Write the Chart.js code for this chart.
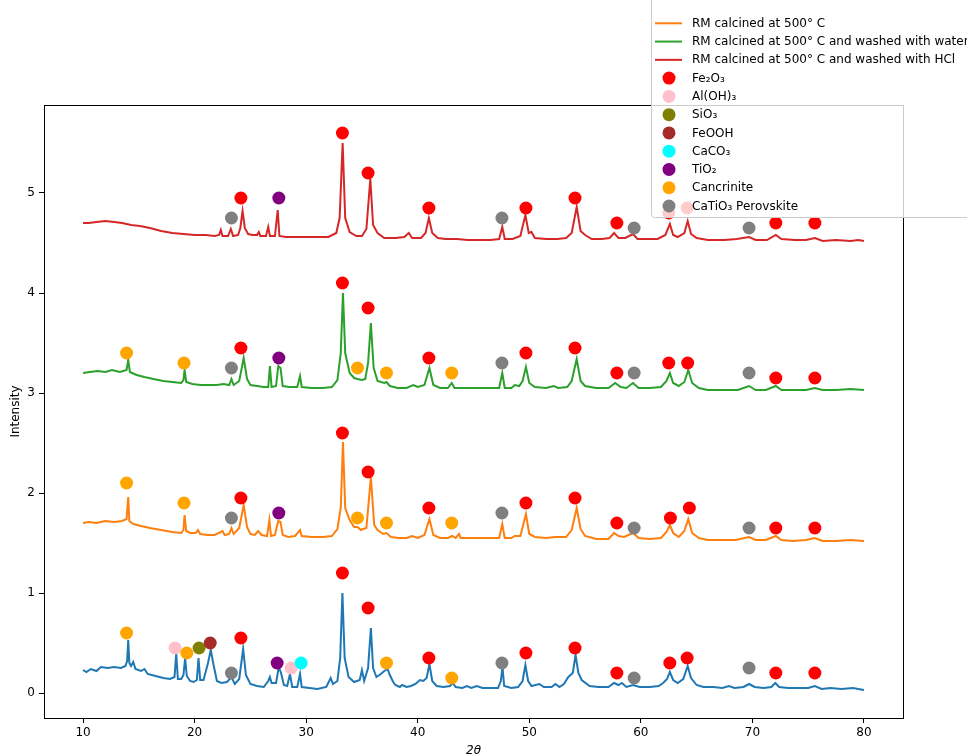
<!DOCTYPE html>
<html>
<head>
<meta charset="utf-8">
<script src="https://cdn.jsdelivr.net/npm/chart.js@4/dist/chart.umd.min.js"></script>
<style>
  body { margin: 0; background: #fff; }
  canvas { display: block; }
</style>
</head>
<body>
<canvas id="chart" width="967" height="754"></canvas>
<script>
// axis ticks
let xTicks = [10, 20, 30, 40, 50, 60, 70, 80];
let yTicks = [0, 1, 2, 3, 4, 5];

// XRD patterns, [2theta, intensity] (offset as plotted)
let rmRaw = [
  [10.0,0.23],[10.3,0.21],[10.7,0.24],[11.2,0.22],[11.6,0.26],[12.2,0.25],[12.8,0.26],[13.4,0.25],[13.8,0.27],
  [13.95,0.32],[14.05,0.53],[14.15,0.30],[14.3,0.27],[14.5,0.31],[14.7,0.24],[15.2,0.22],[15.5,0.24],[15.8,0.19],
  [16.5,0.17],[17.2,0.15],[17.8,0.14],[18.2,0.16],[18.35,0.40],[18.5,0.14],[18.8,0.14],[19.0,0.18],[19.15,0.35],
  [19.3,0.17],[19.6,0.12],[19.9,0.11],[20.2,0.13],[20.35,0.35],[20.5,0.13],[20.8,0.13],[21.2,0.30],[21.45,0.43],
  [21.7,0.28],[22.0,0.12],[22.4,0.10],[22.9,0.11],[23.3,0.16],[23.6,0.09],[24.0,0.14],[24.35,0.44],[24.6,0.18],
  [25.0,0.09],[25.6,0.07],[26.2,0.06],[26.6,0.12],[26.75,0.16],[26.9,0.10],[27.3,0.10],[27.55,0.26],[27.75,0.20],
  [28.0,0.08],[28.3,0.07],[28.55,0.19],[28.75,0.06],[29.2,0.06],[29.45,0.19],[29.6,0.06],[30.3,0.05],[31.0,0.04],
  [31.8,0.06],[32.2,0.15],[32.4,0.09],[32.8,0.12],[33.05,0.35],[33.25,1.00],[33.45,0.35],[33.8,0.16],[34.3,0.11],
  [34.8,0.13],[35.0,0.23],[35.2,0.12],[35.55,0.25],[35.8,0.65],[36.0,0.25],[36.3,0.16],[36.7,0.19],[37.0,0.22],
  [37.3,0.24],[37.5,0.18],[37.8,0.11],[38.0,0.08],[38.4,0.06],[38.6,0.08],[39.0,0.06],[39.4,0.07],[39.8,0.09],
  [40.2,0.13],[40.5,0.12],[40.8,0.15],[41.05,0.29],[41.3,0.12],[41.7,0.07],[42.3,0.06],[42.9,0.07],[43.15,0.10],
  [43.4,0.06],[44.0,0.05],[44.4,0.07],[44.8,0.05],[45.3,0.07],[45.8,0.05],[46.5,0.05],[47.2,0.05],[47.45,0.12],
  [47.6,0.26],[47.75,0.07],[48.4,0.05],[49.0,0.06],[49.4,0.12],[49.65,0.28],[49.9,0.12],[50.2,0.07],[50.9,0.09],
  [51.3,0.06],[52.0,0.06],[52.35,0.09],[52.7,0.06],[53.1,0.09],[53.5,0.16],[53.9,0.20],[54.15,0.38],[54.4,0.20],
  [54.7,0.13],[55.4,0.07],[56.2,0.06],[57.1,0.06],[57.6,0.10],[58.0,0.08],[58.3,0.10],[58.7,0.06],[59.3,0.08],
  [59.9,0.06],[60.8,0.06],[61.6,0.07],[62.0,0.10],[62.35,0.14],[62.6,0.21],[62.9,0.13],[63.3,0.10],[63.8,0.14],
  [64.2,0.27],[64.5,0.15],[65.0,0.08],[65.6,0.06],[66.5,0.06],[67.3,0.05],[67.9,0.07],[68.4,0.05],[69.2,0.06],
  [69.7,0.09],[70.2,0.06],[71.0,0.05],[71.7,0.06],[72.05,0.10],[72.4,0.06],[73.2,0.05],[74.2,0.05],[75.0,0.05],
  [75.6,0.07],[76.2,0.04],[77.0,0.05],[78.0,0.04],[79.0,0.05],[80.0,0.03]
];

let rmCalcined = [
  [10.0,1.70],[10.5,1.71],[11.2,1.70],[12.0,1.72],[12.8,1.71],[13.5,1.72],[13.9,1.74],[14.05,1.96],[14.15,1.72],
  [14.5,1.69],[15.2,1.67],[16.0,1.65],[17.0,1.63],[18.0,1.61],[18.8,1.60],[19.0,1.63],[19.1,1.78],[19.25,1.62],
  [19.6,1.60],[20.1,1.60],[20.3,1.63],[20.5,1.59],[21.2,1.58],[21.8,1.58],[22.5,1.62],[22.7,1.58],[23.1,1.59],
  [23.3,1.65],[23.5,1.59],[24.0,1.65],[24.4,1.88],[24.7,1.66],[25.0,1.59],[25.4,1.58],[25.7,1.62],[26.0,1.58],
  [26.5,1.57],[26.7,1.73],[26.85,1.57],[27.2,1.58],[27.5,1.72],[27.7,1.71],[27.9,1.58],[28.4,1.56],[29.0,1.57],
  [29.45,1.63],[29.6,1.57],[30.5,1.56],[31.5,1.56],[32.3,1.57],[32.8,1.64],[33.1,1.85],[33.3,2.51],[33.5,1.85],
  [33.9,1.73],[34.3,1.66],[34.6,1.66],[34.9,1.63],[35.1,1.64],[35.4,1.65],[35.8,2.16],[36.1,1.68],[36.4,1.63],
  [36.9,1.59],[37.2,1.60],[37.6,1.56],[38.3,1.55],[39.0,1.55],[39.5,1.57],[40.0,1.55],[40.6,1.58],[41.05,1.74],
  [41.4,1.58],[42.0,1.55],[42.7,1.55],[43.1,1.57],[43.4,1.55],[43.7,1.59],[43.85,1.55],[44.8,1.55],[46.0,1.55],
  [47.3,1.55],[47.58,1.69],[47.8,1.55],[48.4,1.55],[48.7,1.57],[49.2,1.57],[49.7,1.79],[50.0,1.59],[50.5,1.56],
  [51.5,1.55],[52.3,1.56],[53.3,1.56],[53.8,1.63],[54.25,1.85],[54.6,1.64],[55.0,1.57],[56.0,1.54],[57.1,1.54],
  [57.6,1.60],[58.0,1.57],[58.5,1.56],[59.3,1.60],[59.8,1.55],[60.8,1.54],[61.8,1.55],[62.3,1.61],[62.6,1.68],
  [62.9,1.60],[63.4,1.56],[63.9,1.62],[64.25,1.74],[64.6,1.60],[65.2,1.55],[66.0,1.53],[67.5,1.53],[68.5,1.53],
  [69.7,1.56],[70.3,1.53],[71.2,1.53],[72.1,1.57],[72.6,1.53],[73.6,1.52],[74.8,1.53],[75.6,1.55],[76.3,1.52],
  [77.5,1.52],[78.8,1.53],[80.0,1.52]
];

let rmWater = [
  [10.0,3.20],[10.6,3.21],[11.3,3.22],[12.0,3.21],[12.6,3.23],[13.3,3.21],[13.9,3.23],[14.05,3.33],[14.2,3.21],
  [14.8,3.18],[15.5,3.16],[16.3,3.14],[17.2,3.12],[18.0,3.11],[18.8,3.10],[19.0,3.13],[19.1,3.23],[19.25,3.11],
  [19.8,3.09],[20.5,3.08],[21.2,3.08],[22.0,3.08],[22.6,3.09],[23.1,3.08],[23.3,3.14],[23.5,3.08],[24.0,3.12],
  [24.4,3.35],[24.7,3.14],[25.0,3.08],[25.6,3.07],[26.2,3.06],[26.6,3.06],[26.75,3.27],[26.9,3.06],[27.3,3.07],
  [27.5,3.27],[27.7,3.25],[27.9,3.07],[28.5,3.06],[29.2,3.06],[29.45,3.17],[29.6,3.06],[30.5,3.05],[31.5,3.05],
  [32.3,3.06],[32.8,3.13],[33.1,3.40],[33.3,4.00],[33.5,3.40],[33.9,3.20],[34.3,3.15],[34.6,3.14],[35.0,3.13],
  [35.3,3.14],[35.55,3.30],[35.8,3.70],[36.05,3.25],[36.4,3.12],[37.0,3.10],[37.2,3.11],[37.5,3.07],[38.2,3.05],
  [39.0,3.05],[39.6,3.08],[40.0,3.06],[40.6,3.08],[41.05,3.25],[41.4,3.08],[42.0,3.05],[42.7,3.05],[43.05,3.10],
  [43.3,3.05],[44.5,3.05],[46.0,3.05],[47.3,3.05],[47.58,3.20],[47.8,3.05],[48.4,3.05],[48.7,3.08],[49.1,3.07],
  [49.4,3.12],[49.7,3.26],[50.0,3.10],[50.5,3.06],[51.5,3.05],[52.2,3.07],[52.6,3.05],[53.4,3.06],[53.8,3.12],
  [54.25,3.34],[54.6,3.12],[55.0,3.07],[56.0,3.05],[57.1,3.05],[57.7,3.10],[58.2,3.06],[58.7,3.05],[59.3,3.10],
  [59.8,3.05],[60.8,3.05],[61.8,3.06],[62.3,3.12],[62.6,3.20],[62.9,3.10],[63.4,3.07],[63.9,3.11],[64.25,3.23],
  [64.6,3.10],[65.2,3.05],[66.0,3.03],[67.5,3.03],[68.7,3.03],[69.7,3.07],[70.3,3.03],[71.2,3.03],[72.1,3.07],
  [72.6,3.03],[73.8,3.03],[74.8,3.03],[75.6,3.05],[76.3,3.03],[77.5,3.03],[78.8,3.04],[80.0,3.03]
];

let rmHCl = [
  [10.0,4.70],[10.5,4.70],[11.2,4.71],[12.0,4.72],[12.8,4.71],[13.5,4.70],[14.3,4.68],[15.1,4.67],[16.0,4.65],
  [17.0,4.62],[18.0,4.60],[19.0,4.59],[20.0,4.58],[21.0,4.58],[21.8,4.57],[22.2,4.58],[22.35,4.63],[22.5,4.57],
  [23.0,4.57],[23.25,4.64],[23.45,4.57],[23.9,4.58],[24.1,4.65],[24.3,4.82],[24.5,4.65],[24.8,4.59],[25.2,4.58],
  [25.6,4.58],[25.75,4.61],[25.9,4.57],[26.4,4.57],[26.6,4.66],[26.75,4.57],[27.2,4.57],[27.45,4.83],[27.6,4.57],
  [28.2,4.56],[29.0,4.56],[30.0,4.56],[31.0,4.56],[32.0,4.56],[32.7,4.60],[33.0,4.75],[33.27,5.50],[33.5,4.75],
  [33.9,4.61],[34.5,4.57],[35.0,4.57],[35.4,4.64],[35.75,5.14],[36.0,4.68],[36.4,4.60],[37.0,4.55],[38.0,4.55],
  [38.8,4.56],[39.2,4.60],[39.5,4.55],[40.3,4.55],[40.7,4.60],[41.0,4.75],[41.3,4.60],[41.8,4.55],[42.5,4.54],
  [43.5,4.54],[44.5,4.53],[45.5,4.53],[46.5,4.53],[47.3,4.54],[47.58,4.66],[47.8,4.54],[48.5,4.54],[49.2,4.57],
  [49.65,4.78],[49.95,4.60],[50.2,4.61],[50.5,4.55],[51.5,4.54],[52.5,4.54],[53.3,4.55],[53.8,4.60],[54.25,4.86],
  [54.6,4.62],[55.0,4.58],[55.6,4.54],[56.5,4.54],[57.2,4.55],[57.6,4.60],[58.0,4.55],[58.6,4.55],[59.3,4.59],
  [59.7,4.54],[60.5,4.54],[61.5,4.54],[62.2,4.58],[62.6,4.69],[62.9,4.58],[63.3,4.56],[63.9,4.60],[64.2,4.72],
  [64.5,4.59],[65.0,4.55],[66.0,4.53],[67.5,4.53],[68.6,4.54],[69.7,4.56],[70.3,4.53],[71.3,4.53],[72.1,4.58],
  [72.6,4.54],[73.8,4.53],[74.8,4.53],[75.6,4.55],[76.3,4.52],[77.5,4.53],[78.8,4.52],[79.5,4.53],[80.0,4.52]
];

// phase markers
let fe2o3 = [
  [24.15,0.55],[33.25,1.2],[35.55,0.85],[41.0,0.35],[49.7,0.4],[54.1,0.45],[57.85,0.2],[62.6,0.3],[64.15,0.35],[72.1,0.2],[75.6,0.2],
  [24.15,1.95],[33.25,2.6],[35.55,2.21],[41.0,1.85],[49.7,1.9],[54.1,1.95],[57.85,1.7],[62.65,1.75],[64.35,1.85],[72.1,1.65],[75.6,1.65],
  [24.15,3.45],[33.25,4.1],[35.55,3.85],[41.0,3.35],[49.7,3.4],[54.1,3.45],[57.85,3.2],[62.5,3.3],[64.2,3.3],[72.1,3.15],[75.6,3.15],
  [24.15,4.95],[33.25,5.6],[35.55,5.2],[41.0,4.85],[49.7,4.85],[54.1,4.95],[57.85,4.7],[62.5,4.8],[64.15,4.85],[72.1,4.7],[75.6,4.7]
];
let aloh3 = [[18.25,0.45],[28.65,0.25]];
let sio3 = [[20.4,0.45]];
let feooh = [[21.4,0.5]];
let caco3 = [[29.55,0.3]];
let tio2 = [[27.4,0.3],[27.55,1.8],[27.55,3.35],[27.55,4.95]];
let cancrinite = [
  [13.9,0.6],[19.3,0.4],[37.2,0.3],[43.05,0.15],
  [13.9,2.1],[19.05,1.9],[34.6,1.75],[37.2,1.7],[43.05,1.7],
  [13.9,3.4],[19.05,3.3],[34.6,3.25],[37.2,3.2],[43.05,3.2]
];
let catio3 = [
  [23.3,0.2],[47.55,0.3],[59.4,0.15],[69.7,0.25],
  [23.3,1.75],[47.55,1.8],[59.4,1.65],[69.7,1.65],
  [23.3,3.25],[47.55,3.3],[59.4,3.2],[69.7,3.2],
  [23.3,4.75],[47.55,4.75],[59.4,4.65],[69.7,4.65]
];

let lineLabels = ["_raw", "RM calcined at 500° C", "RM calcined at 500° C and washed with water", "RM calcined at 500° C and washed with HCl"];
let lineColors = ["#1f77b4", "#ff7f0e", "#2ca02c", "#d62728"];
let lineSeries = [rmRaw, rmCalcined, rmWater, rmHCl];

let phaseLabels = ["Fe₂O₃", "Al(OH)₃", "SiO₃", "FeOOH", "CaCO₃", "TiO₂", "Cancrinite", "CaTiO₃ Perovskite"];
let phaseColors = ["#ff0000", "#ffc0cb", "#808000", "#a52a2a", "#00ffff", "#800080", "#ffa500", "#808080"];
let phaseSeries = [fe2o3, aloh3, sio3, feooh, caco3, tio2, cancrinite, catio3];

function toPoints(arr) {
  return arr.map(function (p) { return { x: p[0], y: p[1] }; });
}

let datasets = [];
for (let i = 0; i < lineSeries.length; i++) {
  datasets.push({
    type: "line",
    label: lineLabels[i],
    data: toPoints(lineSeries[i]),
    borderColor: lineColors[i],
    backgroundColor: lineColors[i],
    borderWidth: 2,
    pointRadius: 0,
    tension: 0,
    fill: false,
    order: 100 - i
  });
}
for (let i = 0; i < phaseSeries.length; i++) {
  datasets.push({
    type: "scatter",
    label: phaseLabels[i],
    data: toPoints(phaseSeries[i]),
    backgroundColor: phaseColors[i],
    borderWidth: 0,
    pointRadius: 6.5,
    pointHoverRadius: 6.5,
    order: 20 - i
  });
}

// frame round the plot, like matplotlib spines
let framePlugin = {
  id: "frame",
  afterDatasetsDraw: function (chart) {
    let a = chart.chartArea;
    let ctx = chart.ctx;
    ctx.save();
    ctx.strokeStyle = "#000";
    ctx.lineWidth = 1;
    ctx.strokeRect(Math.round(a.left) + 0.5, Math.round(a.top) + 0.5, Math.round(a.right - a.left), Math.round(a.bottom - a.top));
    ctx.restore();
  }
};

// legend box sticking out of the top right corner
let legendPlugin = {
  id: "cornerLegend",
  afterDraw: function (chart) {
    let ctx = chart.ctx;
    ctx.save();
    ctx.fillStyle = "rgba(255,255,255,0.8)";
    ctx.strokeStyle = "#cccccc";
    ctx.lineWidth = 1;
    ctx.beginPath();
    ctx.roundRect(651.5, -10, 420, 227.5, 3);
    ctx.fill();
    ctx.stroke();

    ctx.font = "12px 'DejaVu Sans'";
    ctx.textBaseline = "middle";
    let row = 0;
    chart.data.datasets.forEach(function (ds) {
      if (ds.label.charAt(0) === "_") return;
      let y = 23.3 + row * 18.27;
      if (ds.type === "line") {
        ctx.strokeStyle = ds.borderColor;
        ctx.lineWidth = 2;
        ctx.beginPath();
        ctx.moveTo(655, y);
        ctx.lineTo(682, y);
        ctx.stroke();
      } else {
        ctx.fillStyle = ds.backgroundColor;
        ctx.beginPath();
        ctx.arc(669, y, 6.5, 0, Math.PI * 2);
        ctx.fill();
      }
      ctx.fillStyle = "#000";
      ctx.fillText(ds.label, 692, y + 0.5);
      row++;
    });
    ctx.restore();
  }
};

new Chart(document.getElementById("chart"), {
  data: { datasets: datasets },
  options: {
    responsive: false,
    animation: false,
    events: [],
    layout: { padding: { top: 105, right: 64, left: 0, bottom: 0 } },
    plugins: { legend: { display: false }, tooltip: { enabled: false } },
    scales: {
      x: {
        type: "linear",
        min: 6.5,
        max: 83.5,
        afterBuildTicks: function (s) { s.ticks = xTicks.map(function (v) { return { value: v }; }); },
        afterFit: function (s) { s.height = 36; },
        grid: { display: true, drawOnChartArea: false, drawTicks: true, tickLength: 5, color: "#000" },
        border: { display: false },
        ticks: { color: "#000", padding: 3, font: { family: "DejaVu Sans", size: 12 }, maxRotation: 0 },
        title: { display: true, text: "2θ", color: "#000", font: { family: "DejaVu Sans", size: 12, style: "italic" }, padding: { top: 0, bottom: -4 } }
      },
      y: {
        type: "linear",
        min: -0.25,
        max: 5.88,
        afterBuildTicks: function (s) { s.ticks = yTicks.map(function (v) { return { value: v }; }); },
        afterFit: function (s) { s.width = 44; },
        grid: { display: true, drawOnChartArea: false, drawTicks: true, tickLength: 5, color: "#000" },
        border: { display: false },
        ticks: { color: "#000", padding: 4, font: { family: "DejaVu Sans", size: 12 } },
        title: { display: true, text: "Intensity", color: "#000", font: { family: "DejaVu Sans", size: 12 }, padding: { top: 9, bottom: 0 } }
      }
    }
  },
  plugins: [framePlugin, legendPlugin]
});
</script>
</body>
</html>
